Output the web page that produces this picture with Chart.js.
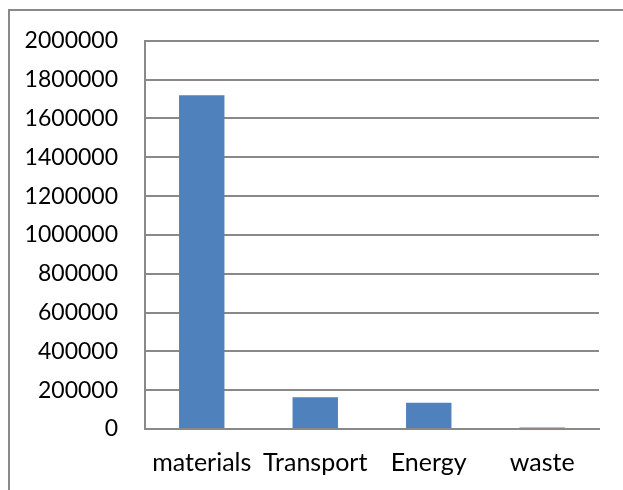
<!DOCTYPE html>
<html>
<head>
<meta charset="utf-8">
<script src="https://cdn.jsdelivr.net/npm/chart.js@4"></script>
<style>
  html, body { margin: 0; padding: 0; background: #fff; overflow: hidden; }
  #wrap { position: relative; width: 623px; height: 490px; }
  #frame { position: absolute; left: 8px; top: 9px; width: 700px; height: 600px;
           border-left: 2px solid #898989; border-top: 2px solid #898989; }
  canvas { position: absolute; left: 0; top: 0; }
</style>
</head>
<body>
<div id="wrap">
  <div id="frame"></div>
  <canvas id="c" width="623" height="490"></canvas>
</div>
<script>
// Emissions by source
const categories = ['materials', 'Transport', 'Energy', 'waste'];
const values = [1720000, 163000, 135000, 8000];
const yTicks = [0, 200000, 400000, 600000, 800000, 1000000, 1200000, 1400000, 1600000, 1800000, 2000000];

const lineColor = '#898989';
const family = 'Lato, "Liberation Sans", sans-serif';

new Chart(document.getElementById('c'), {
  type: 'bar',
  data: {
    labels: categories,
    datasets: [{
      data: values,
      backgroundColor: '#4F81BD',
      borderWidth: 0,
      categoryPercentage: 1,
      barPercentage: 0.4
    }]
  },
  options: {
    responsive: false,
    animation: false,
    layout: { padding: { left: 0, right: 24, top: 40, bottom: 0 } },
    plugins: { legend: { display: false }, tooltip: { enabled: false } },
    scales: {
      x: {
        grid: { display: false, drawTicks: false },
        border: { display: true, color: lineColor, width: 2 },
        ticks: { color: '#000', font: { family, size: 25 }, padding: 19 },
        afterFit: (s) => { s.height = 61; }
      },
      y: {
        min: 0,
        max: 2000000,
        afterBuildTicks: (s) => { s.ticks = yTicks.map(v => ({ value: v })); },
        grid: { color: lineColor, lineWidth: 2, drawTicks: false },
        border: { display: true, color: lineColor, width: 2 },
        ticks: { color: '#000', font: { family, size: 23 }, padding: 27,
                 callback: (v) => String(v) },
        afterFit: (s) => { s.width = 145; }
      }
    }
  }
});
</script>
</body>
</html>
